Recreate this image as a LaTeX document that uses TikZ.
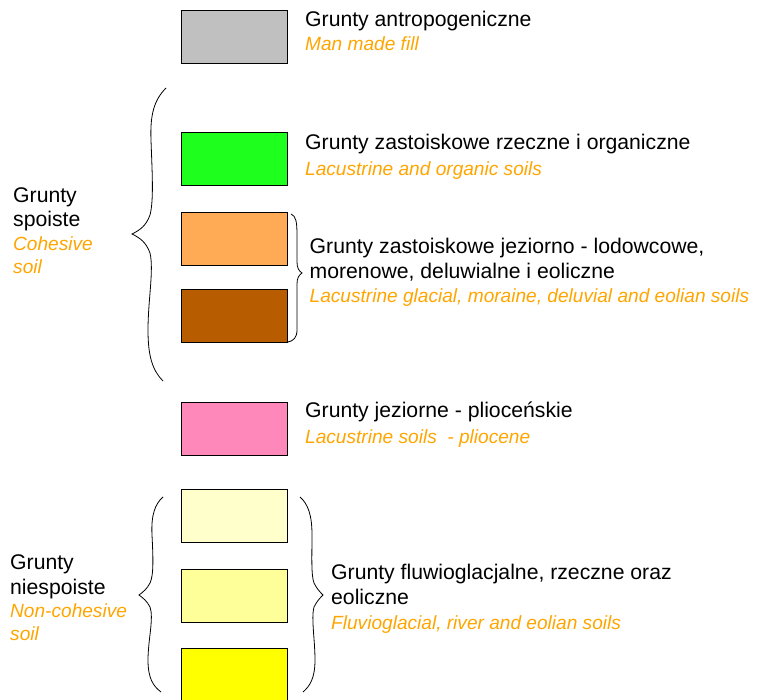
\documentclass[tikz,border=0pt]{standalone}
\usepackage{fontspec}
\setmainfont{Liberation Sans}
\definecolor{eng}{HTML}{FFA500}
\definecolor{cgray}{HTML}{C0C0C0}
\definecolor{cgreen}{HTML}{1EFF1E}
\definecolor{clorange}{HTML}{FFAA55}
\definecolor{cbrown}{HTML}{B85C00}
\definecolor{cpink}{HTML}{FF88BB}
\definecolor{cy1}{HTML}{FFFFCC}
\definecolor{cy2}{HTML}{FFFF99}
\definecolor{cy3}{HTML}{FFFF00}
\tikzset{
  soilbox/.style={draw=black, line width=1.3pt, minimum width=106pt, minimum height=53pt, inner sep=0pt, anchor=north west},
  pl/.style={anchor=base west, inner sep=0pt, font=\fontsize{21.2pt}{24pt}\selectfont, text=black},
  en/.style={anchor=base west, inner sep=0pt, font=\fontsize{19.1pt}{23pt}\selectfont\itshape, text=eng},
  bracel/.style={draw=black, line width=0.8pt}
}
\begin{document}
\begin{tikzpicture}[x=1pt,y=-1pt]
\useasboundingbox (0,0) rectangle (766,700);
% boxes
\node[soilbox, fill=cgray] (b1) at (181,10) {};
\node[soilbox, fill=cgreen] (b2) at (181,132) {};
\node[soilbox, fill=clorange] (b3) at (181,212) {};
\node[soilbox, fill=cbrown] (b4) at (181,289) {};
\node[soilbox, fill=cpink] (b5) at (181,402) {};
\node[soilbox, fill=cy1] (b6) at (181,489) {};
\node[soilbox, fill=cy2] (b7) at (181,569) {};
\node[soilbox, fill=cy3, minimum height=56pt] (b8) at (181,648) {};
% labels
\node[pl] (t1a) at (305,27) {Grunty antropogeniczne};
\node[en] (t1b) at (305,51) {Man made fill};
\node[pl] (t2a) at (305,149.5) {Grunty zastoiskowe rzeczne i organiczne};
\node[en] (t2b) at (305,175.5) {Lacustrine and organic soils};
\node[pl] (t3a) at (309.5,254) {Grunty zastoiskowe jeziorno - lodowcowe,};
\node[pl] (t3b) at (309.5,279) {morenowe, deluwialne i eoliczne};
\node[en] (t3c) at (309.5,303) {Lacustrine glacial, moraine, deluvial and eolian soils};
\node[pl] (t4a) at (305,418) {Grunty jeziorne - plioceńskie};
\node[en] (t4b) at (305,443) {Lacustrine soils\ \ - pliocene};
\node[pl] (t5a) at (331,579) {Grunty fluwioglacjalne, rzeczne oraz};
\node[pl] (t5b) at (331,604) {eoliczne};
\node[en] (t5c) at (331,629) {Fluvioglacial, river and eolian soils};
\node[pl] (l1a) at (13,203) {Grunty};
\node[pl] (l1b) at (13,227) {spoiste};
\node[en] (l1c) at (13,251) {Cohesive};
\node[en] (l1d) at (13,274) {soil};
\node[pl] (l2a) at (10,569) {Grunty};
\node[pl] (l2b) at (10,594) {niespoiste};
\node[en] (l2c) at (10,617) {Non-cohesive};
\node[en] (l2d) at (10,640) {soil};
% braces
\draw[bracel] (166,88) .. controls (154,100) and (150,115) .. (151,140)
  .. controls (152,170) and (154,200) .. (150,215)
  .. controls (146,226) and (140,230) .. (132,234)
  .. controls (140,238) and (146,242) .. (150,253)
  .. controls (154,270) and (148,300) .. (148,330)
  .. controls (148,355) and (152,370) .. (163,381);
\draw[bracel] (291,214) .. controls (296,216) and (297,222) .. (297,235)
  -- (297,262) .. controls (297,268) and (299,271) .. (302,273)
  .. controls (299,275) and (297,278) .. (297,284)
  -- (297,330) .. controls (297,338) and (293,341) .. (288,342);
\draw[bracel] (163,497) .. controls (155,504) and (151,515) .. (152,535)
  .. controls (153,555) and (154,575) .. (150,583)
  .. controls (147,589) and (143,592) .. (139,595)
  .. controls (143,598) and (147,601) .. (150,607)
  .. controls (154,618) and (148,640) .. (148,660)
  .. controls (148,678) and (153,686) .. (161,692);
\draw[bracel] (300,497) .. controls (308,504) and (312,515) .. (312,535)
  .. controls (312,555) and (311,575) .. (314,583)
  .. controls (317,589) and (320,592) .. (323,595)
  .. controls (320,598) and (317,601) .. (314,607)
  .. controls (311,618) and (315,640) .. (315,660)
  .. controls (315,678) and (310,686) .. (303,692);
\end{tikzpicture}
\end{document}
